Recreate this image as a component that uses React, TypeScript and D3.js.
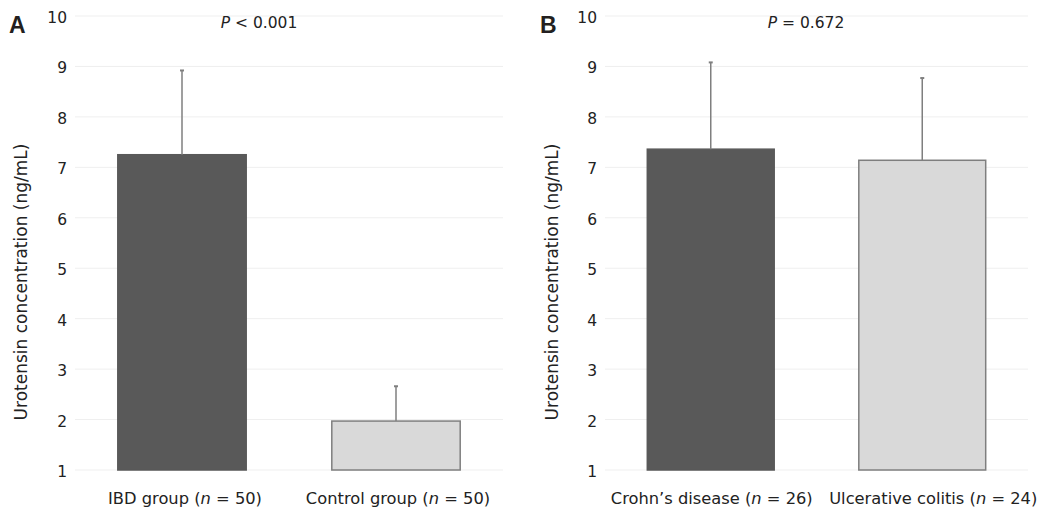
import { scaleBand, scaleLinear } from 'd3';

const yTicks = [1, 2, 3, 4, 5, 6, 7, 8, 9, 10];

const groupsA = ['IBD group', 'Control group'];
const nA = [50, 50];
const meansA = [7.25, 1.97];
const upperA = [8.92, 2.66];

const groupsB = ["Crohn\u2019s disease", 'Ulcerative colitis'];
const nB = [26, 24];
const meansB = [7.36, 7.14];
const upperB = [9.08, 8.77];

const barFill = ['#595959', '#d9d9d9'];
const barStroke = ['#595959', '#7f7f7f'];

const font = '"DejaVu Sans", Verdana, sans-serif';
const top = 16;
const bottom = 470;

interface PanelProps {
  letter: string;
  letterX: number;
  pText: [string, string];
  pX: number;
  groups: string[];
  ns: number[];
  means: number[];
  upper: number[];
  x0: number;
  x1: number;
  titleX: number;
  labelShift: number[];
}

const Panel = ({ letter, letterX, pText, pX, groups, ns, means, upper, x0, x1, titleX, labelShift }: PanelProps) => {
  const y = scaleLinear().domain([1, 10]).range([bottom, top]);
  const x = scaleBand<string>().domain(groups).range([x0, x1]).paddingInner(0.4).paddingOuter(0.2);
  return (
    <g>
      <text x={letterX} y={33} fontSize={23} fontWeight="bold" fill="#231f20" fontFamily="Arial, Liberation Sans, sans-serif">
        {letter}
      </text>
      {yTicks.map((t) => (
        <g key={t}>
          <line x1={x0} x2={x1} y1={y(t)} y2={y(t)} stroke="#efefef" strokeWidth={1} />
          <text x={x0 - 8} y={y(t)} dy="0.45em" textAnchor="end" fontSize={15.5} fill="#222">
            {t}
          </text>
        </g>
      ))}
      <text
        transform={`translate(${titleX},282) rotate(-90)`}
        textAnchor="middle"
        fontSize={17}
        fill="#222"
      >
        Urotensin concentration (ng/mL)
      </text>
      <text x={pX} y={28} textAnchor="middle" fontSize={15.5} fill="#222">
        <tspan fontStyle="italic">{pText[0]}</tspan>
        {pText[1]}
      </text>
      {groups.map((g, i) => {
        const bx = x(g)!;
        const bw = x.bandwidth();
        const cx = bx + bw / 2;
        return (
          <g key={g}>
            <rect
              x={bx}
              y={y(means[i])}
              width={bw}
              height={y(1) - y(means[i])}
              fill={barFill[i]}
              stroke={barStroke[i]}
              strokeWidth={1.5}
            />
            <line x1={cx} x2={cx} y1={y(means[i])} y2={y(upper[i])} stroke="#7f7f7f" strokeWidth={1.5} />
            <line x1={cx - 2} x2={cx + 2} y1={y(upper[i])} y2={y(upper[i])} stroke="#7f7f7f" strokeWidth={2} />
            <text x={cx + labelShift[i]} y={504} textAnchor="middle" fontSize={16.3} fill="#222">
              {g} (<tspan fontStyle="italic">n</tspan> = {ns[i]})
            </text>
          </g>
        );
      })}
    </g>
  );
};

export default function App() {
  return (
    <svg
      width={1042}
      height={513}
      style={{ position: 'absolute', left: 0, top: 0, background: '#fff' }}
      fontFamily={font}
    >
      <Panel
        letter="A"
        letterX={9}
        pText={['P', ' < 0.001']}
        pX={259}
        groups={groupsA}
        ns={nA}
        means={meansA}
        upper={upperA}
        x0={75}
        x1={503}
        titleX={27}
        labelShift={[3, 2]}
      />
      <Panel
        letter="B"
        letterX={540}
        pText={['P', ' = 0.672']}
        pX={806}
        groups={groupsB}
        ns={nB}
        means={meansB}
        upper={upperB}
        x0={605}
        x1={1028}
        titleX={558}
        labelShift={[1, 11]}
      />
    </svg>
  );
}
